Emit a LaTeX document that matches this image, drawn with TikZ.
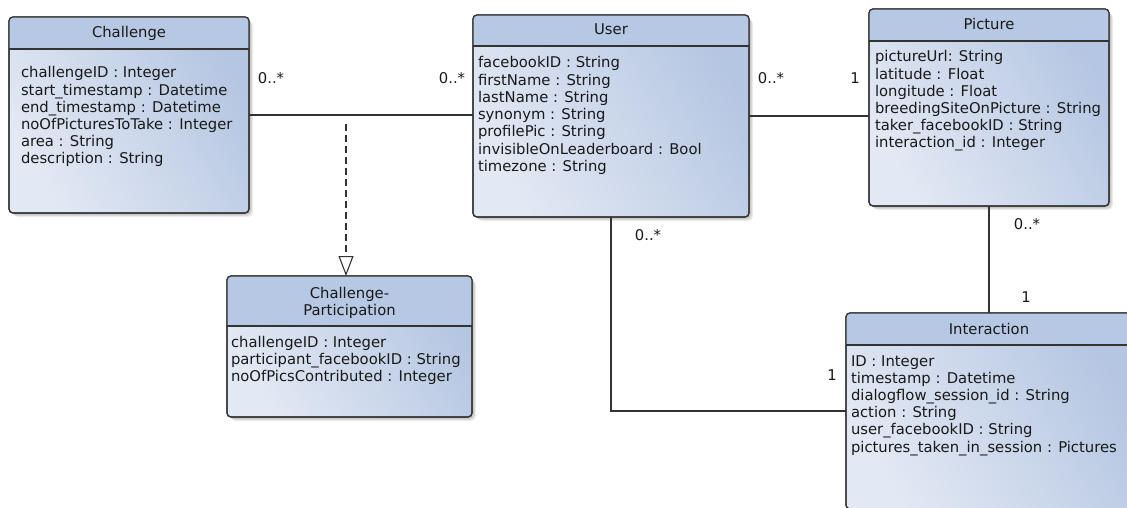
\documentclass[tikz,border=0pt]{standalone}
\usepackage{fontspec}
\setmainfont{DejaVu Sans}
\usetikzlibrary{arrows.meta}

\definecolor{edge}{HTML}{333333}
\definecolor{headfill}{HTML}{B7C8E4}
\definecolor{bodylight}{HTML}{E3E9F4}
\definecolor{bodydark}{HTML}{B5C6E2}

\pgfdeclarelayer{paper}
\pgfdeclarelayer{shade}
\pgfsetlayers{paper,shade,main}

\tikzset{
  classbox/.style={draw=edge, line width=1.2pt, rounded corners=4pt,
    anchor=north west, inner sep=0pt, outer sep=0pt,
    top color=bodydark, bottom color=bodylight, shading angle=-60},
  txt/.style={inner sep=0pt, outer sep=0pt, text=black!90,
    font=\fontsize{14.8}{17.2}\selectfont},
  attr/.style={txt, anchor=base west},
  title/.style={txt, anchor=base, align=center},
  mult/.style={txt, anchor=base},
  link/.style={draw=edge, line width=1.1pt},
}

% \umlclass{name}{x}{y}{width}{height}{header height}
\newcommand\umlclass[6]{%
  \node[classbox, minimum width=#4pt, minimum height=#5pt] (#1) at (#2,#3) {};
  \begin{pgfonlayer}{shade}
    \foreach \s in {1,...,4}
      \fill[black, opacity=0.075, rounded corners=5pt]
        ([shift={({\s*1pt},{-\s*1pt})}]#1.north west) rectangle
        ([shift={({\s*1pt},{-\s*1pt})}]#1.south east);
  \end{pgfonlayer}
  \fill[headfill] ([yshift=-#6pt]#1.north west)
    {[rounded corners=4pt] -- (#1.north west) -- (#1.north east)}
    -- ([yshift=-#6pt]#1.north east) -- cycle;
  \draw[edge, line width=1.2pt] ([yshift=-#6pt]#1.north west) -- ([yshift=-#6pt]#1.north east);
  \draw[edge, line width=1.2pt, rounded corners=4pt] (#1.north west) rectangle (#1.south east);
}

% \attrs{prefix}{x}{first baseline}{lines}
\newcommand\attrs[4]{%
  \foreach \t [count=\i from 0] in {#4}
    \node[attr] (#1-\i) at (#2, #3+17.2*\i) {\t};
}

\begin{document}
\begin{tikzpicture}[x=1pt, y=-1pt]
  \useasboundingbox (0,0) rectangle (1127,508);
  \begin{pgfonlayer}{paper}
    \fill[white] (0,0) rectangle (1127,508);
  \end{pgfonlayer}

  % classes
  \umlclass{challenge}{9}{17}{240}{196}{32}
  \node[title] (challenge-title) at (129,38) {Challenge};
  \attrs{challenge-a}{21}{78}{challengeID : Integer, start\_timestamp : Datetime,
    end\_timestamp : Datetime, noOfPicturesToTake : Integer, area : String,
    description : String}

  \umlclass{user}{473}{15}{276}{202}{31}
  \node[title] (user-title) at (611,35) {User};
  \attrs{user-a}{478}{68}{facebookID : String, firstName : String,
    lastName : String, synonym : String, profilePic : String,
    invisibleOnLeaderboard : Bool, timezone : String}

  \umlclass{picture}{869}{9}{240}{197}{32}
  \node[title] (picture-title) at (989,30) {Picture};
  \attrs{picture-a}{875}{62}{pictureUrl: String, latitude : Float,
    longitude : Float, breedingSiteOnPicture : String,
    taker\_facebookID : String, interaction\_id : Integer}

  \umlclass{cp}{227}{276}{245}{141}{50}
  \node[title] (cp-title1) at (349.5,298) {Challenge-};
  \node[title] (cp-title2) at (349.5,315.5) {Participation};
  \attrs{cp-a}{231}{347}{challengeID : Integer,
    participant\_facebookID : String, noOfPicsContributed : Integer}

  \umlclass{interaction}{846}{313}{286}{196}{32}
  \node[title] (interaction-title) at (989,334) {Interaction};
  \attrs{interaction-a}{851}{366}{ID : Integer, timestamp : Datetime,
    dialogflow\_session\_id : String, action : String,
    user\_facebookID : String, pictures\_taken\_in\_session : Pictures}

  % associations
  \draw[link] (challenge.east) -- (challenge.east -| user.west);
  \draw[link] (user.east) -- (user.east -| picture.west);
  \draw[link] (picture.south) -- (interaction.north);
  \draw[link] (user.south) |- (interaction.west);

  % association class link
  \coordinate (dash-start) at (346,124);
  \draw[link, dash pattern=on 7pt off 4pt,
    -{Triangle[open, length=20pt, width=15pt, line width=1.1pt]}]
    (dash-start) -- (dash-start |- cp.north);

  % multiplicities
  \node[mult] (m-ch) at (271,84) {0..*};
  \node[mult] (m-uc) at (452,84) {0..*};
  \node[mult] (m-up) at (771,84) {0..*};
  \node[mult] (m-pu) at (855,84) {1};
  \node[mult] (m-pi) at (1027,229) {0..*};
  \node[mult] (m-ip) at (1026,302) {1};
  \node[mult] (m-ui) at (648,240) {0..*};
  \node[mult] (m-iu) at (832,380) {1};
\end{tikzpicture}
\end{document}
